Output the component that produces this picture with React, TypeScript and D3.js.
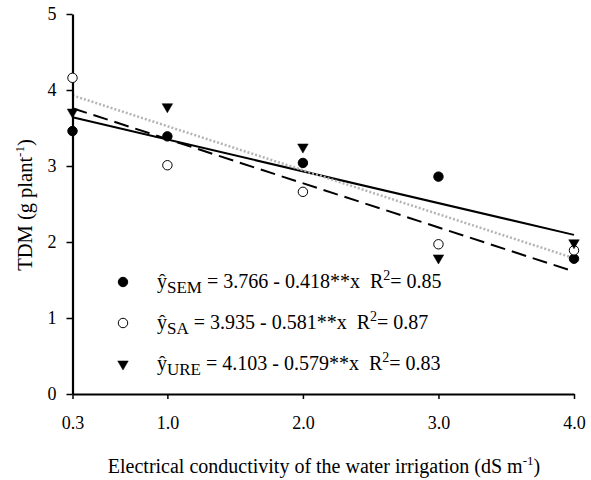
import * as d3 from "d3";
import { useEffect, useRef } from "react";

// electrical conductivity levels (dS m-1)
const ecLevels = [0.3, 1.0, 2.0, 3.0, 4.0];
const xTickLabels = ["0.3", "1.0", "2.0", "3.0", "4.0"];
const yTicks = [0, 1, 2, 3, 4, 5];

// TDM observed per source
const semValues = [3.46, 3.39, 3.04, 2.86, 1.78];
const saValues = [4.16, 3.01, 2.66, 1.97, 1.89];
const ureValues = [3.71, 3.78, 3.25, 1.79, 1.99];

// regression fits
const seriesNames = ["SEM", "SA", "URE"];
const intercepts = [3.766, 3.935, 4.103];
const slopes = [0.418, 0.581, 0.579];
const r2Values = ["0.85", "0.87", "0.83"];

const FONT = "Liberation Serif";

export default function App() {
  const ref = useRef<SVGSVGElement | null>(null);

  useEffect(() => {
    if (!ref.current) return;
    const svg = d3.select(ref.current);
    svg.selectAll("*").remove();

    const x = d3.scaleLinear().domain([0.3, 4]).range([72.5, 574]);
    const y = d3.scaleLinear().domain([0, 5]).range([394, 14]);

    // SEM solid, SA dashed, URE dotted grey
    const lineStyles = [
      { stroke: "#000", dash: null, width: 2 },
      { stroke: "#000", dash: "15,7", width: 2 },
      { stroke: "#b4b4b4", dash: "2,2", width: 2.5 },
    ];
    seriesNames.forEach((_n, i) => {
      const st = lineStyles[i];
      const f = (v: number) => intercepts[i] - slopes[i] * v;
      const path = d3
        .line<number>()
        .x((d) => x(d))
        .y((d) => y(f(d)));
      svg
        .append("path")
        .attr("d", path([ecLevels[0], ecLevels[ecLevels.length - 1]]))
        .attr("fill", "none")
        .attr("stroke", st.stroke)
        .attr("stroke-width", st.width)
        .attr("stroke-dasharray", st.dash);
    });

    // axes
    const gx = svg
      .append("g")
      .attr("transform", `translate(0,${y(0)})`)
      .call(
        d3
          .axisBottom(x)
          .tickValues(ecLevels)
          .tickFormat((_d, i) => xTickLabels[i])
          .tickSize(5)
          .tickSizeOuter(0)
      );
    const gy = svg
      .append("g")
      .attr("transform", `translate(${x(0.3)},0)`)
      .call(d3.axisLeft(y).tickValues(yTicks).tickFormat(d3.format("d")).tickSize(6).tickSizeOuter(0));

    [gx, gy].forEach((g) => {
      g.attr("font-family", FONT).attr("font-size", 18);
      g.select(".domain").attr("stroke", "#000").attr("stroke-width", 2.2);
      g.selectAll(".tick line").attr("stroke", "#000").attr("stroke-width", 1.5);
      g.selectAll(".tick text").attr("fill", "#000");
    });
    gx.selectAll(".tick text").attr("y", 0).attr("dy", 35);
    gy.selectAll(".tick text").attr("dx", -7);

    // markers
    const markerSym = [d3.symbolCircle, d3.symbolCircle, d3.symbolTriangle];
    const markerFill = ["#000", "#fff", "#000"];
    const allValues = [semValues, saValues, ureValues];
    const drawMarker = (i: number, cx: number, cy: number) => {
      const tri = i === 2;
      svg
        .append("path")
        .attr("d", d3.symbol().type(markerSym[i]).size(tri ? 48 : 70)())
        .attr("transform", `translate(${cx},${cy})${tri ? " rotate(180)" : ""}`)
        .attr("fill", markerFill[i])
        .attr("stroke", "#000")
        .attr("stroke-width", tri ? 0.5 : 1);
    };
    allValues.forEach((vals, i) => {
      vals.forEach((v, j) => drawMarker(i, x(ecLevels[j]), y(v)));
    });

    // legend
    const legendY = [282, 323, 364];
    seriesNames.forEach((name, i) => {
      drawMarker(i, 123, legendY[i]);
      const t = svg
        .append("text")
        .attr("x", 157)
        .attr("y", legendY[i] + 6)
        .attr("font-family", FONT)
        .attr("font-size", 20)
        .attr("fill", "#000");
      t.append("tspan").text("ŷ");
      t.append("tspan").attr("font-size", 17).attr("dy", 5).text(name);
      t.append("tspan")
        .attr("dy", -5)
        .text(` = ${intercepts[i].toFixed(3)} - ${slopes[i].toFixed(3)}**x\u00a0\u00a0R`);
      t.append("tspan").attr("font-size", 14).attr("dy", -8).text("2");
      t.append("tspan").attr("dy", 8).text(`= ${r2Values[i]}`);
    });

    // axis titles
    const xt = svg
      .append("text")
      .attr("x", 324)
      .attr("y", 473)
      .attr("text-anchor", "middle")
      .attr("font-family", FONT)
      .attr("font-size", 20);
    xt.append("tspan").text("Electrical conductivity of the water irrigation (dS m");
    xt.append("tspan").attr("font-size", 13).attr("dy", -8).text("-1");
    xt.append("tspan").attr("dy", 8).text(")");

    const yt = svg
      .append("text")
      .attr("transform", `translate(32,205) rotate(-90)`)
      .attr("text-anchor", "middle")
      .attr("font-family", FONT)
      .attr("font-size", 20.5);
    yt.append("tspan").text("TDM (g plant");
    yt.append("tspan").attr("font-size", 13).attr("dy", -8).text("-1");
    yt.append("tspan").attr("dy", 8).text(")");
  }, []);

  return (
    <div style={{ position: "absolute", left: 0, top: 0 }}>
      <svg ref={ref} width={591} height={480} style={{ display: "block", background: "#fff" }} />
    </div>
  );
}
